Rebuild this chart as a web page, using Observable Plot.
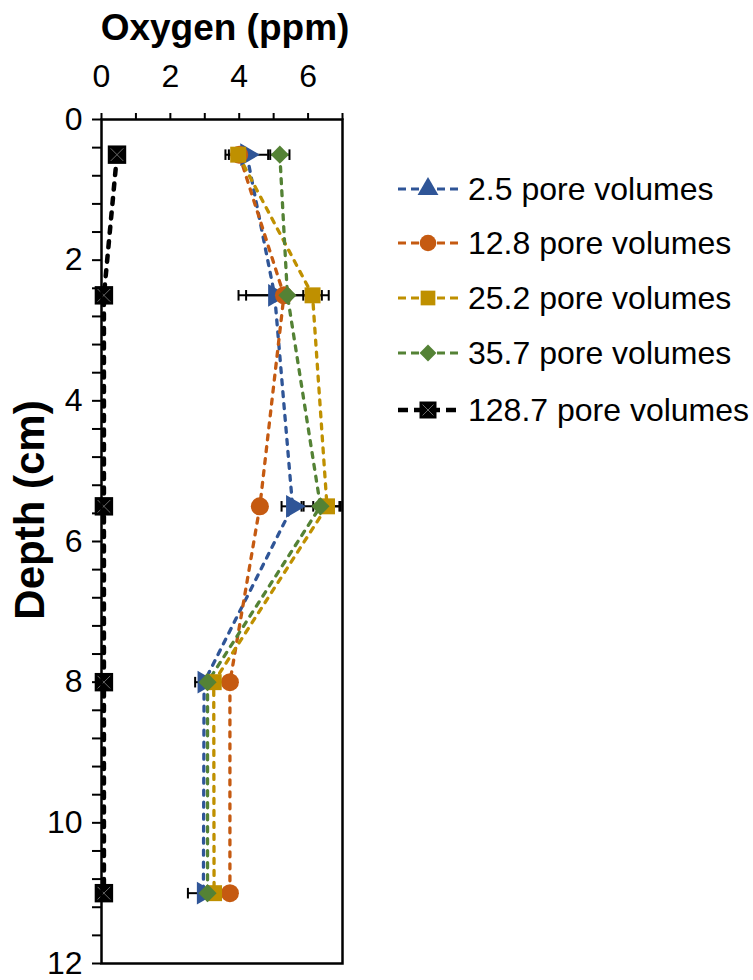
<!DOCTYPE html>
<html>
<head>
<meta charset="utf-8">
<script src="https://cdn.jsdelivr.net/npm/d3@7"></script>
<script src="https://cdn.jsdelivr.net/npm/@observablehq/plot@0.6"></script>
<style>
  html, body { margin: 0; padding: 0; background: #fff; }
  #wrap { position: relative; width: 753px; height: 980px; }
  #overlay { position: absolute; left: 0; top: 0; pointer-events: none; }
  svg text { font-family: "Liberation Sans", Arial, sans-serif; }
</style>
</head>
<body>
<div id="wrap"></div>
<script>
// Sampling depths (cm)
const depths = [0.5, 2.5, 5.5, 8, 11];

// Series names
const seriesNames = [
  "2.5 pore volumes",
  "12.8 pore volumes",
  "25.2 pore volumes",
  "35.7 pore volumes",
  "128.7 pore volumes"
];

// Dissolved oxygen (ppm) per series, by depth
const oxygen_2_5   = [4.22, 5.03, 5.55, 2.98, 2.96];
const oxygen_12_8  = [4.00, 5.30, 4.60, 3.73, 3.73];
const oxygen_25_2  = [3.97, 6.13, 6.55, 3.26, 3.27];
const oxygen_35_7  = [5.18, 5.40, 6.36, 3.08, 3.08];
const oxygen_128_7 = [0.45, 0.07, 0.07, 0.07, 0.07];

// Error-bar half widths (ppm); null where no bar is shown
const err_2_5   = [0.62, 1.05, 0.32, null, 0.45];
const err_12_8  = [null, null, null, null, null];
const err_25_2  = [0.27, 0.27, 0.40, null, null];
const err_35_7  = [0.28, 1.20, 0.55, 0.36, null];
const err_128_7 = [null, null, null, null, null];

// Axis ticks
const xTicks = [0, 1, 2, 3, 4, 5, 6, 7];
const xTickLabels = [0, 2, 4, 6];
const yTicks = [0, 0.4, 0.8, 1.2, 1.6, 2, 2.4, 2.8, 3.2, 3.6, 4, 4.4, 4.8, 5.2, 5.6, 6,
                6.4, 6.8, 7.2, 7.6, 8, 8.4, 8.8, 9.2, 9.6, 10, 10.4, 10.8, 11.2, 11.6, 12];
const yTickLabels = [0, 2, 4, 6, 8, 10, 12];

const xTitle = "Oxygen (ppm)";
const yTitle = "Depth (cm)";

const colors = ["#2F5597", "#C55A11", "#BF9000", "#548235", "#000000"];
const symbols = ["triangle", "circle", "square", "diamond2", "square"];
const radii = [8.4, 9.0, 9.0, 8.2, 10.4];

const values = [oxygen_2_5, oxygen_12_8, oxygen_25_2, oxygen_35_7, oxygen_128_7];
const errors = [err_2_5, err_12_8, err_25_2, err_35_7, err_128_7];

const rows = seriesNames.flatMap((s, i) =>
  depths.map((d, j) => ({series: s, index: i, depth: d, oxygen: values[i][j], err: errors[i][j]}))
);
const errRows = rows.filter(d => d.err != null);

// short vertical stroke used as error-bar cap
const capSymbol = {
  draw(context, size) {
    const r = Math.sqrt(size / Math.PI);
    context.moveTo(0, -r);
    context.lineTo(0, r);
  }
};

const font = "Liberation Sans, Arial, sans-serif";

const lineMarks = seriesNames.map((s, i) =>
  Plot.line(rows.filter(d => d.index === i), {
    x: "oxygen", y: "depth",
    stroke: colors[i],
    strokeWidth: i === 4 ? 4.5 : 3.3,
    strokeDasharray: i === 4 ? "6,8.5" : "5,7",
    strokeLinecap: "round"
  })
);

const dotMarks = seriesNames.map((s, i) =>
  Plot.dot(rows.filter(d => d.index === i), {
    x: "oxygen", y: "depth",
    symbol: symbols[i],
    r: radii[i],
    fill: colors[i],
    rotate: i === 0 ? 90 : 0
  })
);

const chart = Plot.plot({
  width: 753,
  height: 980,
  marginLeft: 101,
  marginRight: 411,
  marginTop: 119,
  marginBottom: 17,
  style: {fontFamily: font, background: "#fff", color: "#000"},
  x: {domain: [0, 7]},
  y: {domain: [0, 12], reverse: true},
  marks: [
    Plot.axisX({
      anchor: "top", ticks: xTicks, tickSize: 7, tickPadding: 26,
      tickFormat: d => xTickLabels.includes(d) ? String(d) : "",
      fontSize: 32, strokeWidth: 2, label: null
    }),
    Plot.axisY({
      anchor: "left", ticks: yTicks, tickSize: 9, tickPadding: 10,
      tickFormat: d => yTickLabels.includes(d) ? String(d) : "",
      fontSize: 32, strokeWidth: 2, label: null
    }),
    ...lineMarks,
    Plot.ruleY(errRows, {
      y: "depth", x1: d => d.oxygen - d.err, x2: d => d.oxygen + d.err,
      stroke: "#000", strokeWidth: 2
    }),
    Plot.dot(errRows, {x: d => d.oxygen - d.err, y: "depth", symbol: capSymbol, r: 5.3, stroke: "#000", strokeWidth: 2}),
    Plot.dot(errRows, {x: d => d.oxygen + d.err, y: "depth", symbol: capSymbol, r: 5.3, stroke: "#000", strokeWidth: 2}),
    ...dotMarks,
    Plot.dot(rows.filter(d => d.index === 4), {
      x: "oxygen", y: "depth", symbol: "times", r: 5.8, stroke: "#6a6a6a", strokeWidth: 1
    }),
    Plot.frame({stroke: "#000", strokeWidth: 2.5})
  ]
});

const wrap = document.getElementById("wrap");
wrap.appendChild(chart);

// Axis titles and legend, drawn in an overlay layer
const overlay = d3.select(wrap).append("svg")
  .attr("id", "overlay")
  .attr("width", 753).attr("height", 980);

overlay.append("text")
  .attr("x", 225).attr("y", 40)
  .attr("text-anchor", "middle")
  .attr("font-size", 37).attr("font-weight", "bold")
  .text(xTitle);

overlay.append("text")
  .attr("transform", "translate(44,510) rotate(-90)")
  .attr("text-anchor", "middle")
  .attr("font-size", 42).attr("font-weight", "bold")
  .text(yTitle);

const legendRowsY = [189, 243, 298, 353, 410];
const symbolTypes = [d3.symbolTriangle, d3.symbolCircle, d3.symbolSquare, d3.symbolDiamond2, d3.symbolSquare];

seriesNames.forEach((name, i) => {
  const y = legendRowsY[i];
  const g = overlay.append("g");
  g.append("line")
    .attr("x1", 398).attr("x2", 460).attr("y1", y).attr("y2", y)
    .attr("stroke", colors[i])
    .attr("stroke-width", i === 4 ? 4.5 : 3.2)
    .attr("stroke-dasharray", i === 4 ? "10,6" : "8,5");
  const size = Math.PI * radii[i] * radii[i] * 0.85;
  g.append("path")
    .attr("transform", `translate(428,${y})`)
    .attr("d", d3.symbol(symbolTypes[i], size)())
    .attr("fill", colors[i]);
  if (i === 4) {
    g.append("path")
      .attr("transform", `translate(428,${y})`)
      .attr("d", d3.symbol(d3.symbolTimes, Math.PI * 25)())
      .attr("fill", "none").attr("stroke", "#6a6a6a").attr("stroke-width", 1);
  }
  g.append("text")
    .attr("x", 468).attr("y", y + 11)
    .attr("font-size", 32)
    .attr("fill", "#000")
    .text(name);
});
</script>
</body>
</html>
